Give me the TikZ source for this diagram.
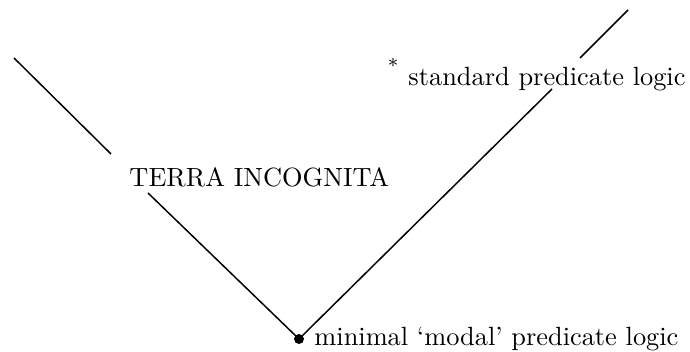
\documentclass[tikz,border=0pt]{standalone}
\usepackage{tikz}

\begin{document}
\begin{tikzpicture}[
  x=0.406pt,y=-0.406pt,
  every node/.style={inner sep=0pt,font=\fontsize{10.7}{13}\selectfont},
  label text/.style={anchor=base west},
  arm/.style={line width=0.6pt}]
\useasboundingbox (0,0) rectangle (690,352);
% bottom point and the two arms
\coordinate (bot) at (299,339);
\coordinate (ltop) at (14,58);
\coordinate (lgapa) at (111,154);
\coordinate (lgapb) at (148,193);
\coordinate (rtop) at (628,10);
\coordinate (rgapa) at (580,58);
\coordinate (rgapb) at (552,89);
\fill (bot) circle (5);
\node[label text] (terra) at (129,186) {TERRA INCOGNITA};
\node[label text] (std) at (408,86) {standard predicate logic};
\node[font=\fontsize{8}{10}\selectfont] (star) at (393,63) {$*$};
\node[label text] (min) at (314,345) {minimal `modal' predicate logic};
\draw[arm] (ltop) -- (lgapa);
\draw[arm] (lgapb) -- (bot);
\draw[arm] (bot) -- (rgapb);
\draw[arm] (rgapa) -- (rtop);
\end{tikzpicture}
\end{document}
